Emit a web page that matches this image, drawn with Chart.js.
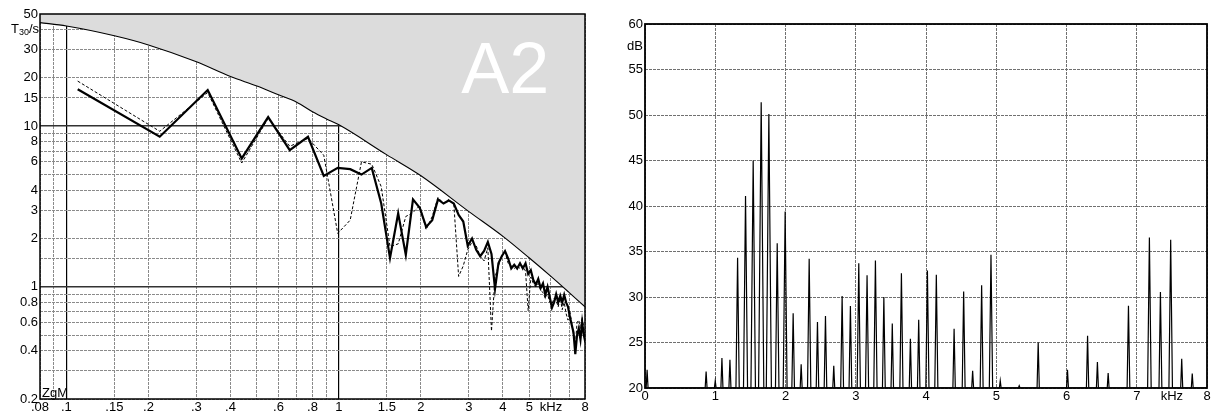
<!DOCTYPE html>
<html><head><meta charset="utf-8">
<script src="https://cdn.jsdelivr.net/npm/chart.js@4.4.1/dist/chart.umd.min.js"></script>
<style>
html,body{margin:0;padding:0;background:#fff;}
#wrap{position:relative;width:1212px;height:414px;overflow:hidden;background:#fff;}
#c1{position:absolute;left:0;top:0;}
#c2{position:absolute;left:600px;top:0;}
</style></head><body>
<div id="wrap"><canvas id="c1" width="600" height="414"></canvas><canvas id="c2" width="612" height="414"></canvas></div>
<script>
const FONT = "'Liberation Sans', Arial, Helvetica, sans-serif";

// ---------- Left panel: reverberation time T30 (s) vs frequency (kHz) ----------
const freqKHz = [0.11,0.22,0.33,0.44,0.55,0.66,0.77,0.88,0.99,1.10,1.21,1.32,1.43,1.54,1.65,1.76,1.87,1.98,2.09,2.20,2.31,2.42,2.53,2.64,2.75,2.86,2.97,3.08,3.19,3.30,3.41,3.52,3.63,3.74,3.85,3.96,4.07,4.18,4.29,4.40,4.51,4.62,4.73,4.84,4.95,5.06,5.17,5.28,5.39,5.50,5.61,5.72,5.83,5.94,6.05,6.16,6.27,6.38,6.49,6.60,6.71,6.82,6.93,7.04,7.15,7.26,7.37,7.48,7.59,7.70,7.81,7.92,8.03];
const t30Solid = [17.0,8.6,16.8,6.3,11.4,7.1,8.6,4.9,5.5,5.4,
  5.0,5.5,3.3,1.51,2.87,1.58,3.5,3.1,2.36,2.6,
  3.5,3.3,3.45,3.3,2.8,2.55,1.8,2.0,1.7,1.55,
  1.67,1.9,1.6,0.97,1.4,1.55,1.67,1.5,1.3,1.37,
  1.3,1.4,1.3,1.4,1.2,1.27,1.1,1.03,1.12,0.98,
  1.05,0.89,1.0,0.86,0.74,0.8,0.9,0.8,0.88,0.8,
  0.89,0.8,0.75,0.65,0.58,0.52,0.38,0.5,0.55,0.47,
  0.6,0.5,0.45];
const t30Dashed = [19.1,9.3,16.2,5.9,11.2,7.5,8.4,6.6,2.15,2.6,
  6.0,5.8,4.2,1.78,1.85,2.74,2.9,3.2,2.27,2.74,
  3.6,3.3,3.5,3.3,1.16,1.35,1.7,1.9,1.8,1.55,
  1.45,1.75,0.53,1.15,1.35,1.55,1.65,1.4,1.35,1.3,
  1.35,1.3,1.35,1.25,0.71,1.15,1.05,1.0,1.05,0.95,
  0.92,0.85,0.9,0.8,0.78,0.85,0.82,0.75,0.85,0.72,
  0.8,0.68,0.62,0.7,0.6,0.5,0.42,0.6,0.62,0.55,
  0.65,0.55,0.5];
// upper limit curve (grey region above it)
const limitFreq = [0.08,0.1,0.15,0.2,0.3,0.4,0.5,0.6,0.7,0.8,0.9,1,1.5,2,3,4,5,6,7,8];
const limitT30  = [44.2,42.1,36.6,32.1,25.2,20.4,17.8,15.7,14.1,12.3,11.1,10.2,6.63,4.91,2.94,2.06,1.51,1.16,0.92,0.75];

const leftXTickVals   = [0.08,0.09,0.1,0.15,0.2,0.3,0.4,0.5,0.6,0.7,0.8,0.9,1,1.5,2,3,4,5,6,7,8];
const leftXTickLabels = ['.08','','.1','.15','.2','.3','.4','','.6','','.8','','1','1.5','2','3','4','5','kHz','','8'];
const leftYTickVals   = [0.2,0.3,0.4,0.5,0.6,0.7,0.8,0.9,1,1.5,2,3,4,5,6,7,8,9,10,15,20,30,40,50];
const leftYTickLabels = ['0.2','','0.4','','0.6','','0.8','','1','','2','3','4','','6','','8','','10','15','20','30','','50'];
const leftSolidX = [0.1, 1];
const leftSolidY = [1, 10];

// ---------- Right panel: level (dB) vs frequency (kHz) ----------
const spikeFreq = [0.03,0.87,1.0,1.095,1.209,1.318,1.431,1.54,1.654,1.763,1.882,1.995,2.109,2.223,2.337,2.455,2.569,2.687,2.806,2.924,3.043,3.161,3.28,3.40,3.52,3.65,3.778,3.896,4.02,4.147,4.40,4.536,4.664,4.792,4.925,5.057,5.327,5.597,6.014,6.30,6.44,6.593,6.882,7.18,7.337,7.483,7.64,7.79];
const spikeDB   = [22.0,21.8,20.8,23.3,23.1,34.3,41.1,45.0,51.4,50.1,35.9,39.4,28.2,22.6,34.2,27.25,27.9,22.45,30.1,29.0,33.7,32.4,34.0,30.0,27.1,32.6,25.4,27.5,32.9,32.45,26.5,30.6,21.9,31.3,34.65,20.8,20.25,25.0,22.0,25.75,22.85,21.65,29.05,36.55,30.55,36.3,23.2,21.6];
const rightXTickVals   = [0,1,2,3,4,5,6,7,7.5,8];
const rightXTickLabels = ['0','1','2','3','4','5','6','7','kHz','8'];
const rightYTickVals   = [20,25,30,35,40,45,50,55,57.5,60];
const rightYTickLabels = ['20','25','30','35','40','45','50','55','dB','60'];

function labelOf(vals, labels, v){
  for (let i=0;i<vals.length;i++) if (Math.abs(vals[i]-v) < 1e-9) return labels[i];
  return '';
}
function isIn(arr, v){ return arr.some(a => Math.abs(a-v) < 1e-9); }

const framePlugin = {
  id: 'frame',
  afterDraw(chart, args, opts){
    const {ctx, chartArea:a} = chart;
    ctx.save();
    ctx.strokeStyle = '#000';
    ctx.lineWidth = opts.width || 1.5;
    ctx.strokeRect(a.left, a.top, a.right-a.left, a.bottom-a.top);
    ctx.restore();
  }
};

const leftTextPlugin = {
  id: 'leftText',
  afterDatasetsDraw(chart){
    const {ctx, chartArea:a, scales} = chart;
    ctx.save();
    ctx.fillStyle = '#fff';
    ctx.font = '72px ' + FONT;
    ctx.textAlign = 'center';
    ctx.textBaseline = 'alphabetic';
    ctx.fillText('A2', scales.x.getPixelForValue(4.08), scales.y.getPixelForValue(16.2));
    ctx.fillStyle = '#000';
    ctx.font = '13px ' + FONT;
    ctx.textAlign = 'left';
    ctx.fillText('ZgM', a.left + 2, a.bottom - 2);
    ctx.restore();
  },
  afterDraw(chart){
    const {ctx, chartArea:a, scales} = chart;
    ctx.save();
    ctx.fillStyle = '#000';
    ctx.textBaseline = 'alphabetic';
    const y = scales.y.getPixelForValue(40) + 3;
    const right = a.left - 1;
    ctx.font = '13px ' + FONT;
    const wS = ctx.measureText('/s').width;
    const wT = ctx.measureText('T').width;
    ctx.font = '9px ' + FONT;
    const w30 = ctx.measureText('30').width;
    let x = right - wS - w30 - wT;
    ctx.font = '13px ' + FONT;
    ctx.fillText('T', x, y);
    ctx.font = '9px ' + FONT;
    ctx.fillText('30', x + wT, y + 2.5);
    ctx.font = '13px ' + FONT;
    ctx.fillText('/s', x + wT + w30, y);
    ctx.restore();
  }
};

const gridGreyL = '#8a8a8a';
const gridGreyR = '#707070';

// ---------- Left chart ----------
new Chart(document.getElementById('c1'), {
  type: 'line',
  data: {
    datasets: [
      { label:'solid', data: freqKHz.map((f,i)=>({x:f, y:t30Solid[i]})), borderColor:'#000', borderWidth:2.2, pointRadius:0, fill:false, tension:0 },
      { label:'dashed', data: freqKHz.map((f,i)=>({x:f, y:t30Dashed[i]})), borderColor:'#000', borderWidth:1, borderDash:[3,2], pointRadius:0, fill:false, tension:0 },
      { label:'limit', data: limitFreq.map((f,i)=>({x:f, y:limitT30[i]})), borderColor:'#000', borderWidth:1.1, pointRadius:0, fill:'end', backgroundColor:'#dcdcdc', cubicInterpolationMode:'monotone' }
    ]
  },
  options: {
    responsive:false, animation:false, events:[], devicePixelRatio:1,
    layout:{ padding:{ left:0, top:14, right:15, bottom:0 } },
    plugins:{ legend:{display:false}, tooltip:{enabled:false}, frame:{width:1.5} },
    scales: {
      x: {
        type:'logarithmic', min:0.08, max:8,
        afterFit: s => { s.height = 15; },
        afterBuildTicks: s => { s.ticks = leftXTickVals.map(v => ({value:v})); },
        ticks:{ autoSkip:false, maxRotation:0, minRotation:0, padding:1, color:'#000', font:{family:FONT, size:13},
          callback: v => labelOf(leftXTickVals, leftXTickLabels, v) },
        grid:{ drawTicks:false,
          color: c => (c.tick && isIn(leftSolidX, c.tick.value)) ? '#000' : gridGreyL,
          lineWidth: c => (c.tick && isIn(leftSolidX, c.tick.value)) ? 1.2 : 1 },
        border:{ display:false, dash: c => (c.tick && isIn(leftSolidX, c.tick.value)) ? [] : [3,1] }
      },
      y: {
        type:'logarithmic', min:0.2, max:50,
        afterFit: s => { s.width = 40; },
        afterBuildTicks: s => { s.ticks = leftYTickVals.map(v => ({value:v})); },
        ticks:{ autoSkip:false, padding:2, color:'#000', font:{family:FONT, size:13},
          callback: v => labelOf(leftYTickVals, leftYTickLabels, v) },
        grid:{ drawTicks:false,
          color: c => (c.tick && isIn(leftSolidY, c.tick.value)) ? '#333' : gridGreyL,
          lineWidth: c => (c.tick && isIn(leftSolidY, c.tick.value)) ? 1.6 : 1 },
        border:{ display:false, dash: c => (c.tick && isIn(leftSolidY, c.tick.value)) ? [] : [3,1] }
      }
    }
  },
  plugins:[leftTextPlugin, framePlugin]
});

// ---------- Right chart ----------
const specPoints = [{x:0, y:20}];
spikeFreq.forEach((f,i) => {
  const hw = 0.012 + 0.0008*(spikeDB[i]-20);
  specPoints.push({x:f-hw, y:20}, {x:f, y:spikeDB[i]}, {x:f+hw, y:20});
});
specPoints.push({x:8, y:20});

new Chart(document.getElementById('c2'), {
  type: 'line',
  data: { datasets: [ { label:'level', data: specPoints, borderColor:'#000', borderWidth:1.2, pointRadius:0, fill:false, tension:0 } ] },
  options: {
    responsive:false, animation:false, events:[], devicePixelRatio:1,
    layout:{ padding:{ left:0, top:24, right:5, bottom:0 } },
    plugins:{ legend:{display:false}, tooltip:{enabled:false}, frame:{width:1.8} },
    scales: {
      x: {
        type:'linear', min:0, max:8,
        afterFit: s => { s.height = 26; },
        afterBuildTicks: s => { s.ticks = rightXTickVals.map(v => ({value:v})); },
        ticks:{ autoSkip:false, maxRotation:0, minRotation:0, padding:1, color:'#000', font:{family:FONT, size:13},
          callback: v => labelOf(rightXTickVals, rightXTickLabels, v) },
        grid:{ drawTicks:false, color: c => (c.tick && Number.isInteger(c.tick.value)) ? gridGreyR : 'rgba(0,0,0,0)' },
        border:{ display:false, dash:[3,1] }
      },
      y: {
        type:'linear', min:20, max:60,
        afterFit: s => { s.width = 45; },
        afterBuildTicks: s => { s.ticks = rightYTickVals.map(v => ({value:v})); },
        ticks:{ autoSkip:false, padding:2, color:'#000', font:{family:FONT, size:13},
          callback: v => labelOf(rightYTickVals, rightYTickLabels, v) },
        grid:{ drawTicks:false, color: c => (c.tick && c.tick.value % 5 === 0) ? gridGreyR : 'rgba(0,0,0,0)' },
        border:{ display:false, dash:[3,1] }
      }
    }
  },
  plugins:[framePlugin]
});
</script>
</body></html>
